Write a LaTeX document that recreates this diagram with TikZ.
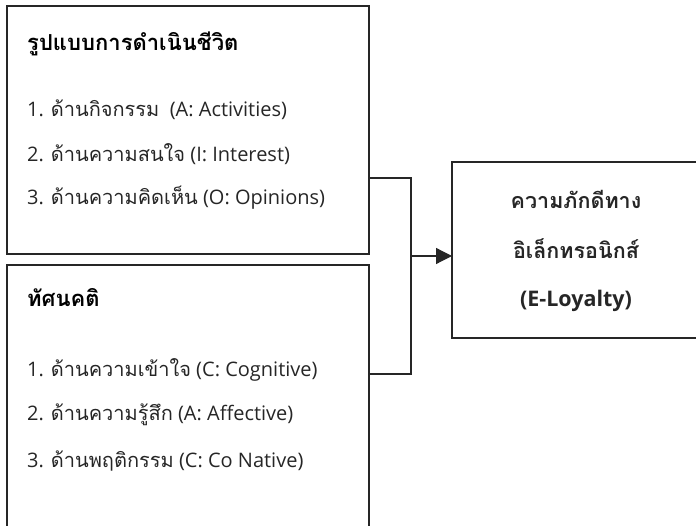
\documentclass[tikz,border=0pt]{standalone}
\usepackage{fontspec}
\setmainfont{Open Sans}
\newfontfamily\thai[Script=Thai]{Loma}
\usetikzlibrary{arrows.meta}
\begin{document}
\begin{tikzpicture}[x=1pt,y=-1pt,
  boxline/.style={draw=black!85,line width=1.3pt},
  conn/.style={draw=black!85,line width=1.2pt},
  item/.style={anchor=west,inner sep=0pt,font=\fontsize{20}{24}\selectfont,text=black!85},
  ttl/.style={anchor=west,inner sep=0pt,font=\fontsize{22}{26}\selectfont\bfseries,text=black},
  rtxt/.style={inner sep=0pt,font=\fontsize{21.5}{26}\selectfont\bfseries,text=black!85}]
\useasboundingbox (0,0) rectangle (696,526);
% boxes
\draw[boxline] (7,6) rectangle (369,254);
\draw[boxline] (7,530) -- (7,265) -- (369,265) -- (369,530);
\draw[boxline] (700,162) -- (452,162) -- (452,338) -- (700,338);
\coordinate (b1) at (369,178);
\coordinate (b2) at (369,374);
\coordinate (j) at (411,256);
\coordinate (t) at (452,256);
\node[ttl] (h1) at (27,44) {\thai รูปแบบการดำเนินชีวิต};
\node[item] (a1) at (27,110) {1. {\thai ด้านกิจกรรม}\ \ (A: Activities)};
\node[item] (a2) at (27,154) {2. {\thai ด้านความสนใจ} (I: Interest)};
\node[item] (a3) at (27,198) {3. {\thai ด้านความคิดเห็น} (O: Opinions)};
\node[ttl] (h2) at (27,298) {\thai ทัศนคติ};
\node[item] (c1) at (27,370) {1. {\thai ด้านความเข้าใจ} (C: Cognitive)};
\node[item] (c2) at (27,415) {2. {\thai ด้านความรู้สึก} (A: Affective)};
\node[item] (c3) at (27,461) {3. {\thai ด้านพฤติกรรม} (C: Co Native)};
\node[rtxt] (r1) at (576,199) {\thai ความภักดีทาง};
\node[rtxt] (r2) at (576,249) {\thai อิเล็กทรอนิกส์};
\node[rtxt] (r3) at (576,301) {(E-Loyalty)};
\draw[conn] (b1) -- (b1 -| j) -- (b2 -| j) -- (b2);
\draw[conn,-{Triangle[length=16pt,width=16pt]}] (j) -- (t);
\end{tikzpicture}
\end{document}
